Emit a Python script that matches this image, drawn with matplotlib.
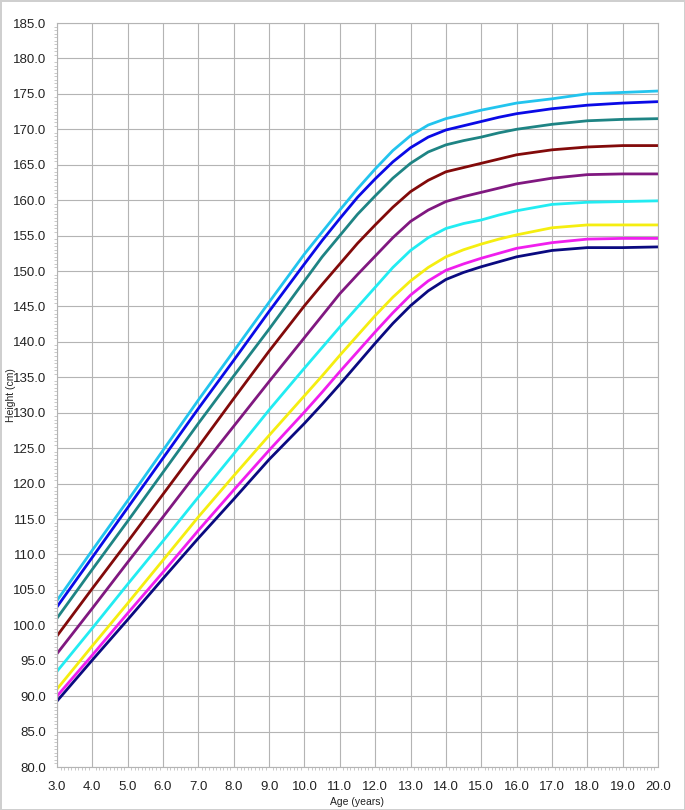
import numpy as np
import matplotlib
matplotlib.use("Agg")
import matplotlib.pyplot as plt
from matplotlib.ticker import MultipleLocator

plt.rcParams["font.family"] = ["Liberation Sans", "DejaVu Sans"]

# ages (years) at which the curves were read
ages = [3, 4, 5, 6, 7, 8, 9, 10, 10.5, 11, 11.5, 12, 12.5, 13, 13.5, 14,
        14.5, 15, 15.5, 16, 17, 18, 19, 20]

# height curves (cm), top to bottom
h_skyblue = [103.5, 110.6, 117.6, 124.7, 131.8, 138.7, 145.6, 152.4, 155.5, 158.6,
             161.6, 164.4, 167.0, 169.1, 170.6, 171.5, 172.1, 172.7, 173.2, 173.7,
             174.3, 175.0, 175.2, 175.4]
h_blue = [102.6, 109.6, 116.6, 123.6, 130.6, 137.4, 144.3, 151.0, 154.3, 157.4,
          160.4, 163.0, 165.4, 167.4, 168.9, 169.9, 170.5, 171.1, 171.7, 172.2,
          172.9, 173.4, 173.7, 173.9]
h_teal = [101.0, 107.9, 114.7, 121.6, 128.5, 135.2, 141.8, 148.6, 152.0, 155.0,
          158.0, 160.6, 163.1, 165.2, 166.8, 167.8, 168.4, 168.9, 169.5, 170.0,
          170.7, 171.2, 171.4, 171.5]
h_maroon = [98.5, 105.2, 111.8, 118.5, 125.2, 132.0, 138.7, 145.1, 148.1, 151.0,
            153.9, 156.5, 159.0, 161.2, 162.8, 164.0, 164.6, 165.2, 165.8, 166.4,
            167.1, 167.5, 167.7, 167.7]
h_purple = [96.0, 102.4, 108.9, 115.3, 121.8, 128.1, 134.4, 140.6, 143.7, 146.8,
            149.5, 152.1, 154.7, 157.0, 158.6, 159.8, 160.5, 161.1, 161.7, 162.3,
            163.1, 163.6, 163.7, 163.7]
h_cyan = [93.5, 99.6, 105.8, 111.9, 118.1, 124.2, 130.4, 136.3, 139.2, 142.1,
          144.9, 147.7, 150.5, 152.9, 154.7, 156.0, 156.7, 157.2, 157.9, 158.5,
          159.4, 159.7, 159.8, 159.9]
h_yellow = [91.0, 97.1, 103.1, 109.2, 115.3, 121.1, 126.8, 132.4, 135.2, 138.1,
            140.9, 143.7, 146.3, 148.6, 150.5, 152.0, 153.0, 153.8, 154.5, 155.1,
            156.1, 156.5, 156.5, 156.5]
h_magenta = [90.0, 95.8, 101.7, 107.5, 113.4, 119.1, 124.7, 130.1, 132.9, 135.8,
             138.6, 141.4, 144.1, 146.6, 148.6, 150.1, 151.0, 151.8, 152.5, 153.2,
             154.0, 154.5, 154.6, 154.6]
h_navy = [89.3, 95.1, 100.8, 106.6, 112.3, 117.8, 123.4, 128.5, 131.2, 134.0,
          136.9, 139.8, 142.6, 145.1, 147.2, 148.8, 149.8, 150.6, 151.3, 152.0,
          152.9, 153.3, 153.3, 153.4]

curves = [
    (h_skyblue, "#22C4EE"),
    (h_blue, "#0A0AE6"),
    (h_teal, "#1E8484"),
    (h_maroon, "#820A0A"),
    (h_purple, "#801880"),
    (h_cyan, "#22ECF2"),
    (h_yellow, "#F5EE10"),
    (h_magenta, "#F01EEE"),
    (h_navy, "#0A0A80"),
]

fig = plt.figure(figsize=(6.85, 8.10), dpi=100, facecolor="white",
                 edgecolor="#cfcfcf", linewidth=2)
ax = fig.add_axes([57 / 685, 1 - 767 / 810, 601 / 685, 744 / 810])

for h, c in curves:
    ax.plot(ages, h, color=c, lw=2.0, solid_joinstyle="round")

ax.set_xlim(3, 20)
ax.set_ylim(80, 185)
ax.xaxis.set_major_locator(MultipleLocator(1))
ax.xaxis.set_minor_locator(MultipleLocator(0.1))
ax.yaxis.set_major_locator(MultipleLocator(5))
ax.yaxis.set_minor_locator(MultipleLocator(0.5))
ax.xaxis.set_major_formatter(lambda v, p: f"{v:.1f}")
ax.yaxis.set_major_formatter(lambda v, p: f"{v:.1f}")

ax.grid(True, which="major", color="#b4b4b4", lw=0.8)
ax.set_axisbelow(True)
for s in ax.spines.values():
    s.set_color("#b4b4b4")
    s.set_linewidth(0.8)

ax.tick_params(which="major", length=0, labelsize=9.5, colors="#222222")
ax.tick_params(axis="x", which="major", pad=10)
ax.tick_params(axis="y", which="major", pad=8)
ax.tick_params(which="minor", length=2.5, width=0.6, color="#c0c0c0")

ax.set_xlabel("Age (years)", fontsize=7.5, labelpad=3, color="#222222")
ax.set_ylabel("Height (cm)", fontsize=7.5, color="#222222")
ax.yaxis.set_label_coords(-0.069, 0.5)

fig.savefig("out.png", dpi=100)
